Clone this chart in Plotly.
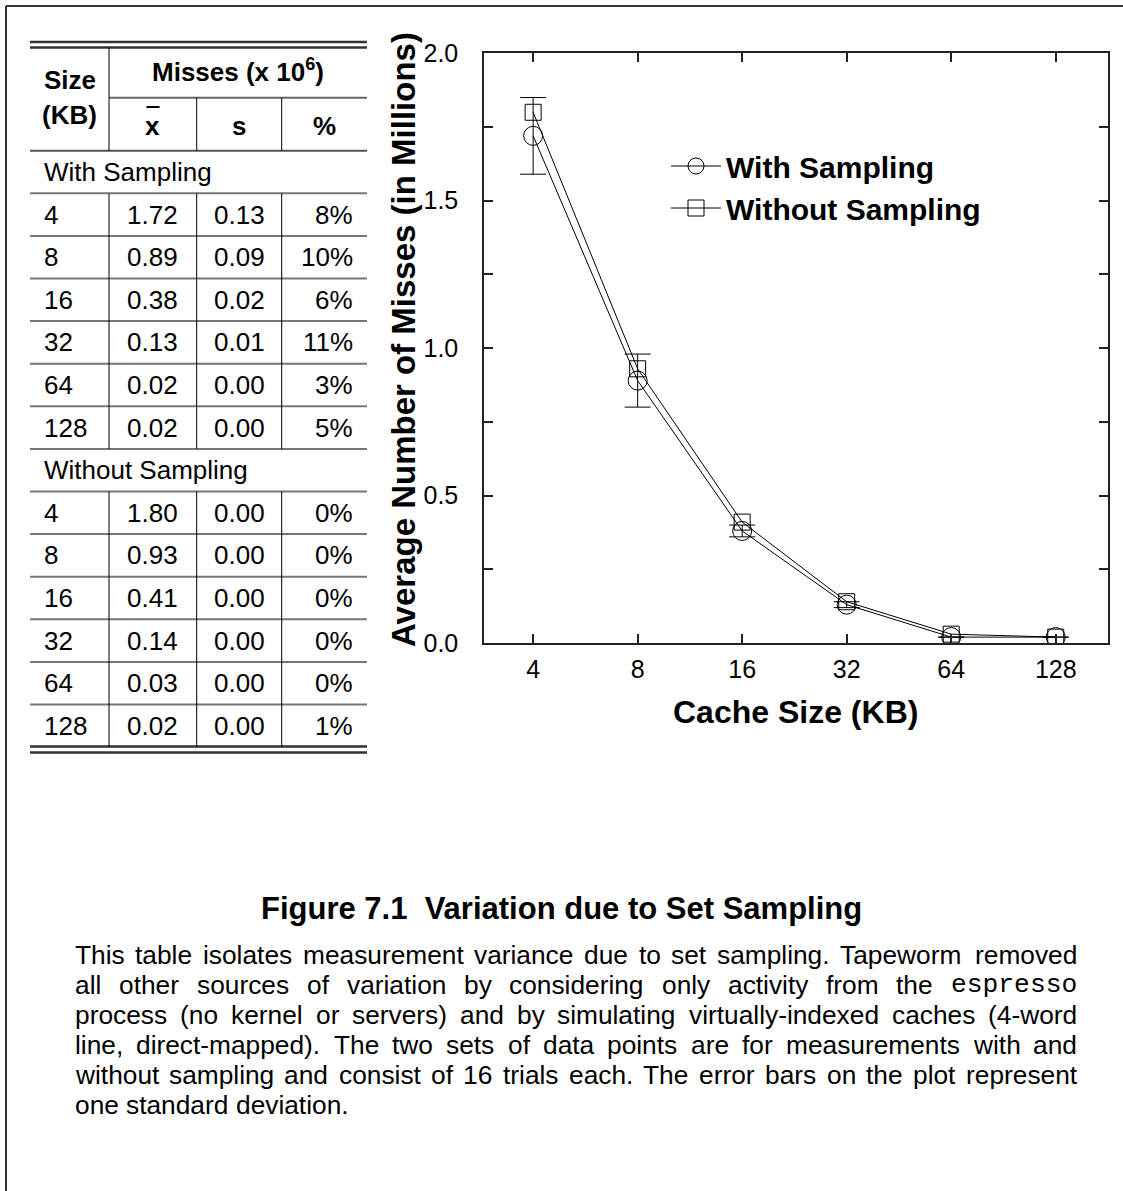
import plotly.graph_objects as go

# ---------------- data ----------------
cache_sizes = ["4", "8", "16", "32", "64", "128"]
with_mean = [1.72, 0.89, 0.38, 0.13, 0.02, 0.02]
with_sd = [0.13, 0.09, 0.02, 0.01, 0.00, 0.00]
with_pct = ["8%", "10%", "6%", "11%", "3%", "5%"]
without_mean = [1.80, 0.93, 0.41, 0.14, 0.03, 0.02]
without_sd = [0.00, 0.00, 0.00, 0.00, 0.00, 0.00]
without_pct = ["0%", "0%", "0%", "0%", "0%", "1%"]
y_tick_vals = [0.0, 0.5, 1.0, 1.5, 2.0]
y_tick_text = ["0.0", "0.5", "1.0", "1.5", "2.0"]

caption = "Figure 7.1  Variation due to Set Sampling"
paragraph_lines = [
    "This table isolates measurement variance due to set sampling. Tapeworm removed",
    "all other sources of variation by considering only activity from the |espresso",
    "process (no kernel or servers) and by simulating virtually-indexed caches (4-word",
    "line, direct-mapped). The two sets of data points are for measurements with and",
    "without sampling and consist of 16 trials each. The error bars on the plot represent",
    "one standard deviation.",
]

# ---------------- helpers ----------------
W, H = 1123, 1191
FONT = "Liberation Sans, Arial, Helvetica, sans-serif"
MONO = "Liberation Mono, Courier New, monospace"


def px(x):
    return x / W


def py(y):
    return 1 - y / H


shapes = []
annotations = []


def hline(x0, x1, y, width=1.0, color="black"):
    shapes.append(dict(type="line", xref="paper", yref="paper",
                       x0=px(x0), x1=px(x1), y0=py(y), y1=py(y),
                       line=dict(color=color, width=width)))


def vline(x, y0, y1, width=1.0, color="black"):
    shapes.append(dict(type="line", xref="paper", yref="paper",
                       x0=px(x), x1=px(x), y0=py(y0), y1=py(y1),
                       line=dict(color=color, width=width)))


def text(x, y, s, size=26, anchor="center", bold=False, family=FONT, angle=0):
    annotations.append(dict(x=px(x), y=py(y), xref="paper", yref="paper",
                            text=s, showarrow=False, xanchor=anchor,
                            yanchor="middle", textangle=angle,
                            font=dict(family=family, size=size, color="black",
                                      weight="bold" if bold else "normal")))


# ---------------- page border ----------------
hline(6, W, 6, width=2, color="#333")
vline(6, 6, H, width=2, color="#333")

# ---------------- table ----------------
TL, TR = 30, 367
C1, C2, C3 = 109, 196.7, 281.7
row_top, pitch = 150.7, 42.6
nrows = 14
b = [row_top + k * pitch for k in range(nrows + 1)]

hline(TL, TR, 42, width=2.5, color="#333")
hline(TL, TR, 47.5, width=2.5, color="#333")
hline(C1, TR, 97.7, width=2, color="#666")
hline(TL, TR, b[0], width=2, color="#555")
for k in range(1, nrows):
    hline(TL, TR, b[k], width=2, color="#777")
hline(TL, TR, b[nrows] - 0.6, width=2.5, color="#333")
hline(TL, TR, b[nrows] + 5.4, width=2.5, color="#333")

vline(C1, 47.5, b[0])
vline(C2, 97.7, b[0])
vline(C3, 97.7, b[0])
for (s0, s1) in [(1, 7), (8, 14)]:
    for cx in (C1, C2, C3):
        vline(cx, b[s0], b[s1])

text((TL + C1) / 2, 80, "Size", bold=True)
text((TL + C1) / 2, 115, "(KB)", bold=True)
text((C1 + TR) / 2, 71, "Misses (x 10<sup>6</sup>)", bold=True)
text((C1 + C2) / 2, 126, "x", bold=True)
hline(146.5, 159.5, 107, width=2)
text((C2 + C3) / 2, 126, "s", bold=True)
text((C3 + TR) / 2, 126, "%", bold=True)


def table_block(start_row, label, means, sds, pcts):
    text(42, b[start_row] + pitch / 2, label, anchor="left")
    for i in range(len(cache_sizes)):
        yc = b[start_row + 1 + i] + pitch / 2
        text(42, yc, cache_sizes[i], anchor="left")
        text((C1 + C2) / 2, yc, f"{means[i]:.2f}")
        text((C2 + C3) / 2, yc, f"{sds[i]:.2f}")
        text(355, yc, pcts[i], anchor="right")


table_block(0, "With Sampling", with_mean, with_sd, with_pct)
table_block(7, "Without Sampling", without_mean, without_sd, without_pct)

# ---------------- axis titles ----------------
text(403, 340, "Average Number of Misses (in Millions)", size=33, bold=True, angle=-90)
text(795, 712, "Cache Size (KB)", size=32, bold=True)

# ---------------- caption ----------------
text(W / 2, 908, caption, size=31, bold=True)

# ---------------- justified paragraph ----------------
ARIAL = {' ': 278, '!': 278, '(': 333, ')': 333, ',': 278, '-': 333, '.': 278, ':': 278,
         'A': 667, 'B': 667, 'C': 722, 'D': 722, 'E': 667, 'F': 611, 'G': 778, 'H': 722,
         'I': 278, 'J': 500, 'K': 667, 'L': 556, 'M': 833, 'N': 722, 'O': 778, 'P': 667,
         'Q': 778, 'R': 722, 'S': 667, 'T': 611, 'U': 722, 'V': 667, 'W': 944, 'X': 667,
         'Y': 667, 'Z': 611,
         'a': 556, 'b': 556, 'c': 500, 'd': 556, 'e': 556, 'f': 278, 'g': 556, 'h': 556,
         'i': 222, 'j': 222, 'k': 500, 'l': 222, 'm': 833, 'n': 556, 'o': 556, 'p': 556,
         'q': 556, 'r': 333, 's': 500, 't': 278, 'u': 556, 'v': 500, 'w': 722, 'x': 500,
         'y': 500, 'z': 500}
for d in "0123456789":
    ARIAL[d] = 556

PF = 26.3
PX0, PX1 = 73, 1075
PY0, PSTEP = 955, 30


def word_width(wd, mono):
    if mono:
        return 600 * len(wd) * PF / 1000
    return sum(ARIAL.get(c, 556) for c in wd) * PF / 1000


for li, line in enumerate(paragraph_lines):
    yc = PY0 + li * PSTEP
    words = line.split(" ")
    items = []
    for wd in words:
        mono = wd.startswith("|")
        wd = wd.lstrip("|")
        items.append((wd, mono, word_width(wd, mono)))
    last = li == len(paragraph_lines) - 1
    if last:
        gap = ARIAL[' '] * PF / 1000
    else:
        gap = (PX1 - PX0 - sum(w for _, _, w in items)) / (len(items) - 1)
    x = PX0
    for wd, mono, w in items:
        text(x, yc, wd, size=PF, anchor="left", family=MONO if mono else FONT)
        x += w + gap

# ---------------- chart ----------------
fig = go.Figure()
fig.add_trace(go.Scatter(
    x=cache_sizes, y=with_mean, mode="lines+markers", name="With Sampling",
    line=dict(color="black", width=1),
    marker=dict(symbol="circle-open", size=19, color="black", line=dict(width=1)),
    error_y=dict(type="data", array=with_sd, visible=True, color="black",
                 thickness=1, width=13),
))
fig.add_trace(go.Scatter(
    x=cache_sizes, y=without_mean, mode="lines+markers", name="Without Sampling",
    line=dict(color="black", width=1),
    marker=dict(symbol="square-open", size=16, color="black", line=dict(width=1)),
))

axis_common = dict(showline=True, linecolor="#222", linewidth=1.5, mirror="ticks",
                   ticks="inside", ticklen=9, tickwidth=1.5, tickcolor="#222",
                   showgrid=False, zeroline=False, automargin=False,
                   tickfont=dict(family=FONT, size=25, color="black"))

fig.update_layout(
    template="none",
    width=W, height=H, autosize=False,
    margin=dict(l=0, r=0, t=0, b=0, pad=0, autoexpand=False),
    paper_bgcolor="white", plot_bgcolor="white",
    xaxis=dict(type="category", range=[-0.47, 5.5], domain=[px(484), px(1108)],
               ticklabelstandoff=3, **axis_common),
    yaxis=dict(range=[0, 2], domain=[py(643), py(53.3)], tickvals=y_tick_vals,
               ticktext=y_tick_text, ticklabelstandoff=19,
               minor=dict(dtick=0.25, ticks="inside", ticklen=9, tickwidth=1.5,
                          tickcolor="#222", showgrid=False),
               **axis_common),
    showlegend=True,
    legend=dict(x=px(666), y=py(140), xanchor="left", yanchor="top",
                bgcolor="rgba(0,0,0,0)", itemwidth=50,
                font=dict(family=FONT, size=30, color="black", weight="bold")),
    shapes=shapes,
    annotations=annotations,
)

fig.write_html("out.html", config={"displayModeBar": False},
               post_script="document.body.style.margin='0';document.body.style.overflow='hidden';")
